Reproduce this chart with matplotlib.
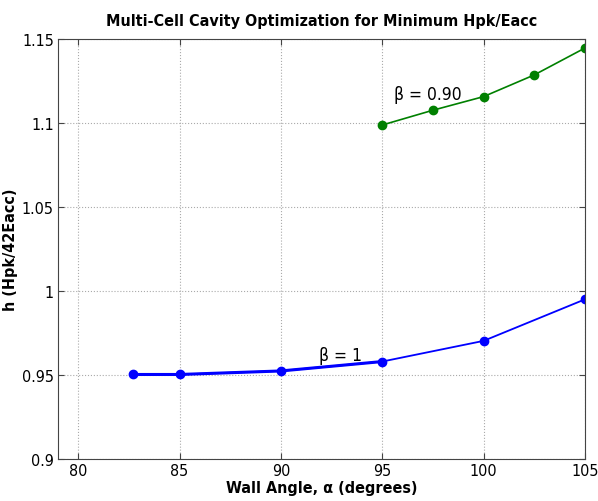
import matplotlib.pyplot as plt

plt.rcParams['font.family'] = ['Liberation Sans Narrow', 'DejaVu Sans']
plt.rcParams['font.stretch'] = 'condensed'

alpha_b1 = [82.7, 85, 90, 95, 100, 105]
h_b1 = [0.9503, 0.9503, 0.9524, 0.9580, 0.9703, 0.9950]
alpha_b09 = [95, 97.5, 100, 102.5, 105]
h_b09 = [1.0988, 1.1076, 1.1157, 1.1286, 1.1446]

xticks = [80, 85, 90, 95, 100, 105]
yticks = [0.9, 0.95, 1.0, 1.05, 1.1, 1.15]
yticklabels = ['0.9', '0.95', '1', '1.05', '1.1', '1.15']

fig = plt.figure(figsize=(5.98, 5.02), dpi=100)
ax = fig.add_axes([0.097, 0.0837, 0.881, 0.8366])

ax.plot(alpha_b1, h_b1, color='blue', lw=1.3, marker='o', ms=6)
ax.plot(alpha_b1[:4], h_b1[:4], color='blue', lw=2.2)
ax.plot(alpha_b09, h_b09, color='green', lw=1.2, marker='o', ms=6)

ax.text(91.9, 0.962, '\u03b2 = 1', fontsize=12.5, va='center')
ax.text(95.6, 1.117, '\u03b2 = 0.90', fontsize=12.5, va='center')

ax.set_xlim(79, 105)
ax.set_ylim(0.9, 1.15)
ax.set_xticks(xticks)
ax.set_yticks(yticks)
ax.set_yticklabels(yticklabels)
ax.tick_params(direction='in', labelsize=11.5, length=4, color='#444444', pad=3,
               top=True, right=True)
for s in ax.spines.values():
    s.set_color('#444444')
ax.grid(True, linestyle=':', color='#aaaaaa', lw=0.8)

ax.set_xlabel('Wall Angle, \u03b1 (degrees)', fontsize=11.5, fontweight='bold', labelpad=1)
ax.set_ylabel('h (Hpk/42Eacc)', fontsize=11.5, fontweight='bold', labelpad=3)
ax.set_title('Multi-Cell Cavity Optimization for Minimum Hpk/Eacc', fontsize=11.5, fontweight='bold', pad=10)

fig.savefig('out.png')
